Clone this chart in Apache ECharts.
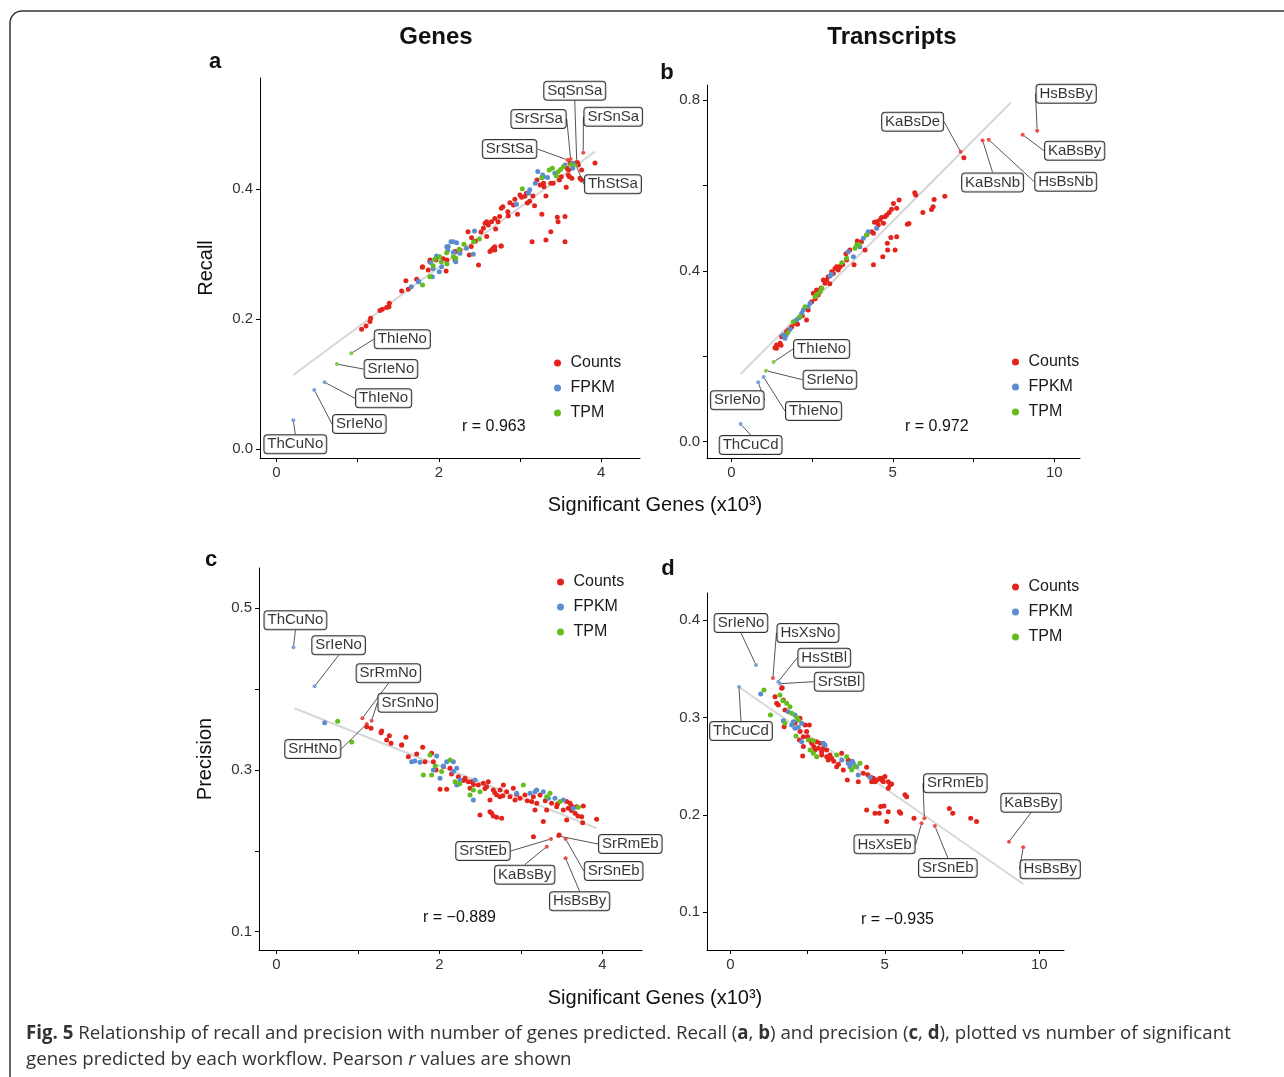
<!DOCTYPE html>
<html>
<head>
<meta charset="utf-8">
<script src="https://cdn.jsdelivr.net/npm/echarts@6/dist/echarts.min.js"></script>
<style>
  html, body { margin: 0; padding: 0; background: #fff; }
  #main { width: 1284px; height: 1077px; }
</style>
</head>
<body>
<div id="main"></div>
<script>
// ---- data: [significant genes (x10^3), recall / precision] ----
// panel a: genes, recall
const aCounts = [[1.049,0.1845],[1.103,0.1896],[1.152,0.1963],[1.160,0.2014],[1.275,0.2132],[1.304,0.2152],[1.357,0.2178],[1.390,0.2244],[1.386,0.2193],[1.542,0.2434],[1.595,0.2593],[1.624,0.246],[1.727,0.2613],[1.797,0.2798],[1.87,0.2757],[1.89,0.2885],[1.965,0.2911],[2.055,0.293],[2.09,0.274],[2.20,0.3039],[2.376,0.2987],[2.40,0.3116],[2.404,0.3254],[2.49,0.2834],[2.55,0.3397],[2.57,0.3474],[2.59,0.327],[2.65,0.35],[2.63,0.3039],[2.67,0.309],[2.69,0.3064],[2.765,0.3126],[2.70,0.3387],[2.73,0.35],[2.75,0.3577],[2.77,0.3705],[2.79,0.373],[2.856,0.3587],[2.876,0.3792],[2.937,0.3843],[2.97,0.3613],[3.02,0.3874],[3.06,0.389],[3.09,0.3787],[3.12,0.3812],[3.16,0.3894],[3.18,0.3746],[3.25,0.4064],[3.27,0.3613],[3.296,0.4038],[3.32,0.3894],[3.38,0.4089],[3.41,0.4089],[3.486,0.414],[3.51,0.419],[3.57,0.4028],[3.46,0.3566],[3.47,0.35],[3.555,0.3577],[3.38,0.3346],[3.32,0.3218],[3.15,0.3192],[3.555,0.3192],[3.60,0.4294],[3.61,0.419],[3.64,0.4166],[3.76,0.414],[3.76,0.4294],[3.925,0.44],[3.72,0.437],[3.71,0.4407],[1.892,0.291],[2.26,0.3063],[2.36,0.3346],[2.59,0.35],[2.69,0.355],[2.92,0.3756],[3.0,0.391],[3.08,0.3935],[3.21,0.414],[3.29,0.409],[3.58,0.4319],[3.595,0.4217],[3.74,0.4166],[3.617,0.4396],[2.65,0.3063],[2.69,0.3114],[2.77,0.3125],[2.10,0.291],[2.20,0.291],[1.80,0.2808],[2.45,0.32],[2.52,0.334],[2.61,0.345],[2.85,0.365]];
const aFpkm = [[1.661,0.25],[1.752,0.2583],[1.92,0.2654],[1.93,0.278],[1.973,0.2972],[2.006,0.273],[2.035,0.2808],[2.117,0.3116],[2.18,0.3192],[2.22,0.3177],[2.21,0.2885],[2.26,0.3013],[2.34,0.309],[2.44,0.3356],[2.425,0.2997],[2.957,0.3766],[3.12,0.3992],[3.19,0.4089],[3.22,0.4269],[3.28,0.4217],[3.34,0.418],[3.43,0.4243],[3.555,0.437],[3.65,0.432],[1.75,0.2577],[2.097,0.3115],[2.15,0.319],[2.11,0.306],[2.18,0.303],[1.90,0.287],[3.104,0.3935],[3.29,0.419],[3.66,0.4396]];
const aTpm = [[1.80,0.2526],[1.89,0.2654],[2.01,0.296],[2.03,0.2885],[2.097,0.302],[2.18,0.296],[2.21,0.2936],[2.25,0.3075],[2.31,0.3152],[2.43,0.3192],[2.5,0.3234],[3.03,0.4007],[3.27,0.4176],[3.36,0.4294],[3.45,0.4202],[3.47,0.4268],[3.535,0.4345],[1.95,0.292],[2.10,0.285],[1.93,0.282],[3.40,0.432],[3.50,0.43],[3.63,0.438]];
const aLabeled = [['ThCuNo','FPKM',0.207,0.0446],['SrIeNo','FPKM',0.466,0.0912],['ThIeNo','FPKM',0.593,0.103],['SrIeNo','TPM',0.745,0.131],['ThIeNo','TPM',0.922,0.1476],['SqSnSa','Counts',3.70,0.442],['SrSrSa','Counts',3.624,0.4463],['SrSnSa','Counts',3.78,0.456],['SrStSa','Counts',3.587,0.4448],['ThStSa','TPM',3.69,0.4366]];
const aFit = [[0.207,0.1143],[3.925,0.4576]];

// panel b: transcripts, recall
const bCounts = [[5.68,0.583],[5.71,0.578],[5.196,0.566],[6.61,0.575],[6.28,0.5675],[6.25,0.55],[6.2,0.544],[5.93,0.537],[5.5,0.511],[5.45,0.509],[5.12,0.48],[4.94,0.478],[4.83,0.4645],[5.07,0.449],[4.84,0.449],[4.69,0.433],[4.40,0.4145],[3.80,0.4145],[4.14,0.449],[7.20,0.665],[5.02,0.558],[5.12,0.547],[4.96,0.5445],[4.89,0.5365],[4.81,0.531],[4.76,0.527],[4.60,0.519],[4.71,0.5114],[4.55,0.5075],[4.43,0.5137],[4.35,0.4919],[4.40,0.488],[4.03,0.4685],[3.67,0.4489],[3.57,0.4255],[3.26,0.4099],[3.31,0.402],[3.16,0.3942],[2.95,0.3786],[2.90,0.3708],[2.69,0.3436],[2.49,0.3279],[1.97,0.2772],[1.87,0.2694],[1.77,0.2616],[1.71,0.2577],[1.56,0.246],[1.51,0.2303],[1.40,0.2264],[1.40,0.2186],[2.33,0.285],[2.38,0.3084],[2.85,0.3786],[3.0,0.3864],[3.11,0.3981],[3.21,0.4059],[3.37,0.4099],[2.64,0.3552],[2.54,0.3474],[3.45,0.415],[3.05,0.37],[2.78,0.36],[2.60,0.335],[2.20,0.295],[3.35,0.41],[3.55,0.44],[3.9,0.47],[4.2,0.485],[4.5,0.515],[4.65,0.525],[1.35,0.22],[1.54,0.226],[2.05,0.275]];
const bFpkm = [[4.50,0.4997],[4.24,0.4919],[4.09,0.4763],[3.98,0.4567],[3.62,0.445],[3.78,0.4333],[3.06,0.388],[2.44,0.324],[2.38,0.3162],[2.23,0.3084],[2.18,0.3006],[2.02,0.285],[1.82,0.2631],[1.61,0.2499],[1.66,0.242],[3.1,0.392],[2.1,0.29],[1.7,0.25]];
const bTpm = [[4.19,0.4841],[3.88,0.4606],[3.83,0.4528],[3.57,0.4294],[3.42,0.4192],[2.80,0.3591],[2.75,0.3513],[2.59,0.3396],[2.28,0.3162],[2.13,0.2928],[1.92,0.2811],[1.75,0.255],[2.65,0.345],[3.95,0.462]];
const bLabeled = [['ThCuCd','FPKM',0.289,0.0414],['SrIeNo','FPKM',0.835,0.139],['ThIeNo','FPKM',1.0,0.1514],['SrIeNo','TPM',1.072,0.1663],['ThIeNo','TPM',1.31,0.1866],['KaBsDe','Counts',7.10,0.679],['KaBsNb','Counts',7.78,0.7057],['HsBsNb','Counts',7.97,0.7073],['KaBsBy','Counts',9.02,0.719],['HsBsBy','Counts',9.47,0.7283]];
const bFit = [[0.289,0.1585],[8.65,0.794]];

// panel c: genes, precision
const cCounts = [[1.591,0.3404],[1.538,0.331],[1.796,0.3281],[1.62,0.3165],[1.722,0.3198],[1.824,0.3103],[1.906,0.3206],[1.927,0.3103],[2.05,0.3042],[2.132,0.3021],[2.234,0.2918],[2.315,0.2897],[2.356,0.2856],[2.397,0.2856],[2.377,0.2774],[2.091,0.2761],[2.479,0.2815],[2.54,0.2835],[2.581,0.2794],[2.601,0.2856],[2.663,0.2753],[2.622,0.2629],[2.704,0.2691],[2.745,0.2753],[2.786,0.2815],[2.745,0.267],[2.826,0.2732],[2.867,0.267],[2.908,0.2774],[2.929,0.2629],[2.99,0.265],[3.051,0.2691],[3.154,0.267],[3.133,0.2609],[3.195,0.2588],[3.236,0.2691],[3.378,0.2588],[3.44,0.2547],[3.563,0.2609],[3.604,0.2588],[3.583,0.2526],[3.624,0.2555],[3.685,0.2547],[3.665,0.2464],[3.767,0.2555],[3.747,0.2423],[3.522,0.2505],[3.563,0.2382],[3.317,0.2505],[3.276,0.2362],[3.174,0.2505],[2.499,0.2444],[2.643,0.2464],[2.704,0.2415],[2.765,0.2403],[2.622,0.2485],[2.663,0.2431],[3.759,0.2349],[3.93,0.239],[2.009,0.2761],[1.109,0.3536],[1.162,0.3515],[1.293,0.3482],[1.285,0.3462],[1.387,0.3425],[1.354,0.3371],[1.408,0.333],[1.539,0.331],[3.155,0.2175],[3.47,0.2195],[2.30,0.287],[2.42,0.282],[2.56,0.277],[2.68,0.272],[2.78,0.268],[2.95,0.27],[3.08,0.262],[3.30,0.262],[3.45,0.258],[3.62,0.25],[3.70,0.243],[1.96,0.3],[2.15,0.295]];
const cFpkm = [[1.661,0.3103],[1.763,0.3095],[1.968,0.3173],[1.927,0.3],[2.009,0.2897],[2.091,0.3103],[2.173,0.3103],[2.173,0.298],[2.214,0.3021],[2.214,0.2815],[2.254,0.2877],[2.438,0.2877],[2.418,0.2629],[2.949,0.2712],[3.113,0.2712],[3.174,0.2732],[3.195,0.2753],[3.276,0.2732],[3.338,0.265],[3.419,0.265],[3.522,0.2629],[3.645,0.2526],[0.594,0.3585],[1.70,0.311],[2.05,0.305]];
const cTpm = [[1.886,0.3186],[1.804,0.2938],[1.906,0.2938],[2.029,0.298],[2.132,0.3124],[2.193,0.2856],[2.418,0.2753],[2.499,0.2732],[2.377,0.2691],[3.031,0.2815],[3.317,0.267],[3.358,0.2712],[3.481,0.2609],[3.706,0.2539],[0.753,0.3602],[0.925,0.3347],[1.95,0.305],[2.25,0.283]];
const cLabeled = [['ThCuNo','FPKM',0.21,0.4517],['SrIeNo','FPKM',0.47,0.4035],['SrRmNo','Counts',1.056,0.3639],['SrSnNo','Counts',1.17,0.361],['SrHtNo','Counts',1.11,0.357],['SrStEb','Counts',3.37,0.2147],['KaBsBy','Counts',3.318,0.2052],['SrRmEb','Counts',3.46,0.2184],['SrSnEb','Counts',3.55,0.2147],['HsBsBy','Counts',3.55,0.1908]];
const cFit = [[0.222,0.3763],[3.93,0.2279]];

// panel d: transcripts, precision
const dCounts = [[1.662,0.3298],[1.447,0.3213],[1.716,0.3179],[1.501,0.3144],[1.554,0.3127],[1.77,0.3076],[2.256,0.299],[1.743,0.2905],[2.418,0.2922],[2.558,0.2922],[2.256,0.2854],[2.472,0.2854],[2.364,0.2802],[2.235,0.2768],[2.634,0.2734],[2.795,0.2751],[2.903,0.2734],[2.364,0.27],[2.741,0.2665],[2.849,0.2682],[2.957,0.2648],[3.119,0.2665],[2.957,0.2614],[3.119,0.2597],[3.226,0.2614],[3.172,0.2563],[3.28,0.258],[2.342,0.2604],[3.604,0.2631],[3.82,0.2563],[3.442,0.2494],[3.658,0.246],[4.305,0.2426],[4.413,0.2487],[4.628,0.2374],[4.736,0.2357],[4.844,0.2374],[4.952,0.234],[5.006,0.2392],[5.114,0.234],[5.168,0.2306],[5.221,0.2316],[5.114,0.2272],[4.574,0.234],[4.682,0.234],[4.898,0.2357],[3.788,0.2357],[4.143,0.234],[5.653,0.2207],[5.707,0.2186],[4.413,0.2049],[4.682,0.2015],[4.822,0.2015],[4.866,0.2084],[4.974,0.209],[5.114,0.2032],[5.06,0.193],[5.471,0.2032],[5.514,0.2015],[5.945,0.1964],[7.09,0.2064],[7.2,0.2015],[7.78,0.1964],[7.97,0.193],[1.68,0.3305],[2.5,0.28],[2.7,0.27],[3.0,0.268],[3.35,0.255],[3.5,0.252],[4.45,0.241],[4.55,0.2385],[4.95,0.238],[2.1,0.2945],[2.6,0.276]];
const dFpkm = [[1.878,0.3059],[2.094,0.3025],[2.04,0.2956],[1.716,0.2966],[1.986,0.2922],[2.094,0.2888],[2.31,0.2939],[2.31,0.2751],[3.011,0.2734],[3.065,0.2717],[3.604,0.2563],[3.82,0.2529],[3.874,0.2494],[3.981,0.2529],[4.089,0.2494],[4.143,0.2409],[4.52,0.2385],[0.983,0.324],[2.2,0.29],[3.95,0.255]];
const dTpm = [[1.608,0.323],[1.824,0.3144],[1.932,0.311],[1.986,0.3042],[2.149,0.2998],[2.203,0.2973],[1.77,0.2939],[2.126,0.2809],[2.526,0.2768],[2.687,0.2761],[2.58,0.2665],[2.687,0.2631],[2.795,0.2597],[3.442,0.2614],[3.766,0.2597],[4.035,0.2494],[4.197,0.2529],[3.927,0.246],[1.09,0.3281],[1.3,0.3025],[1.7,0.317]];
const dLabeled = [['SrIeNo','FPKM',0.831,0.3538],['HsXsNo','Counts',1.38,0.3405],['HsStBl','FPKM',1.553,0.3367],['SrStBl','FPKM',1.61,0.3346],['ThCuCd','FPKM',0.281,0.3312],['SrRmEb','Counts',6.28,0.1964],['HsXsEb','Counts',6.19,0.1912],['SrSnEb','Counts',6.62,0.1885],['KaBsBy','Counts',9.02,0.1724],['HsBsBy','Counts',9.48,0.1666]];
const dFit = [[0.281,0.3312],[9.48,0.129]];

// tick values
const geneTicks = [0, 1, 2, 3, 4];
const geneLabels = [0, 2, 4];
const txTicks = [0, 2.5, 5, 7.5, 10];
const txLabels = [0, 5, 10];
const aYTicks = [0, 0.2, 0.4];
const bYTicks = [0, 0.2, 0.4, 0.6, 0.8];
const bYLabels = [0, 0.4, 0.8];
const cYTicks = [0.1, 0.2, 0.3, 0.4, 0.5];
const cYLabels = [0.1, 0.3, 0.5];
const dYTicks = [0.1, 0.2, 0.3, 0.4];
const rValues = ['r = 0.963', 'r = 0.972', 'r = \u22120.889', 'r = \u22120.935'];

// label box offsets from their point, px (layout only)
const aNudge = [[2,24],[45,34],[59,16],[54,5],[51,-14],[-2,-71],[-32,-40],[30,-36],[-58,-11],[37,19]];
const bNudge = [[10,21],[-21,18],[50,34],[64,9],[48,-13],[-48,-30],[10,42],[77,42],[52,16],[29,-37]];
const cNudge = [[2,-27],[24,-41],[26,-45],[36,-18],[-54,25],[-68,12],[-22,28],[72,8],[48,32],[14,43]];
const dNudge = [[-15,-42],[35,-45],[46,-24],[59,-2],[2,44],[31,-35],[-37,21],[13,42],[22,-39],[27,22]];

const FONT = "'Liberation Sans', Arial, Helvetica, sans-serif";
const colors = { Counts: '#e3241c', FPKM: '#5a8cd0', TPM: '#63bd1c' };

var chartDom = document.getElementById('main');
var myChart = echarts.init(chartDom);

function panelSeries(i, counts, fpkm, tpm, labeled, nudge, fit) {
  const s = [];
  s.push({
    type: 'line', name: 'fit' + i, xAxisIndex: i, yAxisIndex: i, data: fit,
    symbol: 'none', silent: true, z: 1,
    lineStyle: { color: '#d7d7d7', width: 2 }
  });
  [['Counts', counts], ['FPKM', fpkm], ['TPM', tpm]].forEach(function (p) {
    s.push({
      type: 'scatter', name: p[0], xAxisIndex: i, yAxisIndex: i, data: p[1],
      symbolSize: 5, z: 2, itemStyle: { color: colors[p[0]], opacity: 1 }
    });
  });
  s.push({
    type: 'scatter', name: 'lab' + i, xAxisIndex: i, yAxisIndex: i, z: 3,
    symbolSize: 4,
    data: labeled.map(function (r) {
      return { name: r[0], value: [r[2], r[3]], itemStyle: { color: colors[r[1]] } };
    }),
    label: {
      show: true, position: 'inside', formatter: '{b}',
      fontFamily: FONT, fontSize: 15, color: '#000',
      backgroundColor: '#fff', borderColor: '#000', borderWidth: 1,
      borderRadius: 3, padding: [2, 3, 1, 3]
    },
    labelLine: { show: true, lineStyle: { color: '#555', width: 1 } },
    labelLayout: function (params) {
      const n = nudge[params.dataIndex];
      return { dx: n[0], dy: n[1] };
    }
  });
  return s;
}

function xAxis(i, min, max, ticks, labels) {
  return {
    type: 'value', gridIndex: i, min: min, max: max,
    axisLine: { onZero: false, lineStyle: { color: '#000', width: 1 } },
    axisTick: { show: true, length: 4, customValues: ticks, lineStyle: { color: '#000' } },
    axisLabel: { customValues: labels, color: '#333', fontSize: 15, margin: 7, fontFamily: FONT },
    splitLine: { show: false }
  };
}

function yAxis(i, min, max, ticks, labels, name) {
  return {
    type: 'value', gridIndex: i, min: min, max: max,
    name: name || '', nameLocation: 'middle', nameGap: 44, nameRotate: 90,
    nameTextStyle: { fontSize: 20, color: '#111', fontFamily: FONT },
    axisLine: { onZero: false, lineStyle: { color: '#000', width: 1 } },
    axisTick: { show: true, length: 4, customValues: ticks, lineStyle: { color: '#000' } },
    axisLabel: {
      customValues: labels, color: '#333', fontSize: 15, margin: 7, fontFamily: FONT,
      formatter: function (v) { return v.toFixed(1); }
    },
    splitLine: { show: false }
  };
}

function legend(left, top) {
  return {
    orient: 'vertical', left: left, top: top, padding: 0, itemGap: 9,
    itemWidth: 16, itemHeight: 7, icon: 'circle',
    data: ['Counts', 'FPKM', 'TPM'],
    textStyle: { fontSize: 16, color: '#1a1a1a', fontFamily: FONT }
  };
}

function txt(text, x, y, size, weight, align) {
  return {
    type: 'text', silent: true,
    style: {
      text: text, x: x, y: y, fill: '#111',
      font: (weight || 'normal') + ' ' + size + 'px ' + FONT,
      textAlign: align || 'center', textVerticalAlign: 'middle'
    }
  };
}

const captionFont = "'Open Sans', 'Noto Sans', sans-serif";

option = {
  animation: false,
  backgroundColor: '#fff',
  grid: [
    { left: 260, top: 78, width: 380, height: 380 },
    { left: 707, top: 85, width: 373, height: 373 },
    { left: 259, top: 568, width: 383, height: 382 },
    { left: 707, top: 593, width: 357, height: 357 }
  ],
  xAxis: [
    xAxis(0, -0.2033, 4.4794, geneTicks, geneLabels),
    xAxis(1, -0.7523, 10.796, txTicks, txLabels),
    xAxis(2, -0.2123, 4.487, geneTicks, geneLabels),
    xAxis(3, -0.754, 10.80, txTicks, txLabels)
  ],
  yAxis: [
    yAxis(0, -0.01337, 0.5708, aYTicks, aYTicks, 'Recall'),
    yAxis(1, -0.0382, 0.8354, bYTicks, bYLabels),
    yAxis(2, 0.0774, 0.5498, cYTicks, cYLabels, 'Precision'),
    yAxis(3, 0.0612, 0.4277, dYTicks, dYTicks)
  ],
  legend: [legend(554, 355), legend(1012, 354), legend(557, 574), legend(1012, 579)],
  series: [].concat(
    panelSeries(0, aCounts, aFpkm, aTpm, aLabeled, aNudge, aFit),
    panelSeries(1, bCounts, bFpkm, bTpm, bLabeled, bNudge, bFit),
    panelSeries(2, cCounts, cFpkm, cTpm, cLabeled, cNudge, cFit),
    panelSeries(3, dCounts, dFpkm, dTpm, dLabeled, dNudge, dFit)
  ),
  graphic: [
    {
      type: 'rect', silent: true,
      shape: { x: 10, y: 11, width: 1400, height: 1200, r: 12 },
      style: { fill: 'none', stroke: '#333', lineWidth: 1.5 }
    },
    txt('Genes', 436, 37, 24, 'bold'),
    txt('Transcripts', 892, 37, 24, 'bold'),
    txt('a', 215, 62, 22, 'bold'),
    txt('b', 667, 73, 22, 'bold'),
    txt('c', 211, 560, 22, 'bold'),
    txt('d', 668, 569, 22, 'bold'),
    txt('Significant Genes (x10\u00b3)', 655, 505, 20),
    txt('Significant Genes (x10\u00b3)', 655, 998, 20),
    txt(rValues[0], 462, 427, 16, 'normal', 'left'),
    txt(rValues[1], 905, 427, 16, 'normal', 'left'),
    txt(rValues[2], 423, 918, 16, 'normal', 'left'),
    txt(rValues[3], 861, 920, 16, 'normal', 'left'),
    {
      type: 'text', silent: true,
      style: {
        x: 26, y: 1021, fill: '#333',
        fontFamily: captionFont, fontSize: 18.7, lineHeight: 26,
        textAlign: 'left', textVerticalAlign: 'top',
        text: '{b|Fig. 5} Relationship of recall and precision with number of genes predicted. Recall ({b|a}, {b|b}) and precision ({b|c}, {b|d}), plotted vs number of significant\ngenes predicted by each workflow. Pearson {i|r} values are shown',
        rich: {
          b: { fontFamily: captionFont, fontSize: 18.7, fontWeight: 'bold', lineHeight: 26, fill: '#333' },
          i: { fontFamily: captionFont, fontSize: 18.7, fontStyle: 'italic', lineHeight: 26, fill: '#333' }
        }
      }
    }
  ]
};

option && myChart.setOption(option);

window.addEventListener('resize', function () {
  myChart.resize();
});
</script>
</body>
</html>
